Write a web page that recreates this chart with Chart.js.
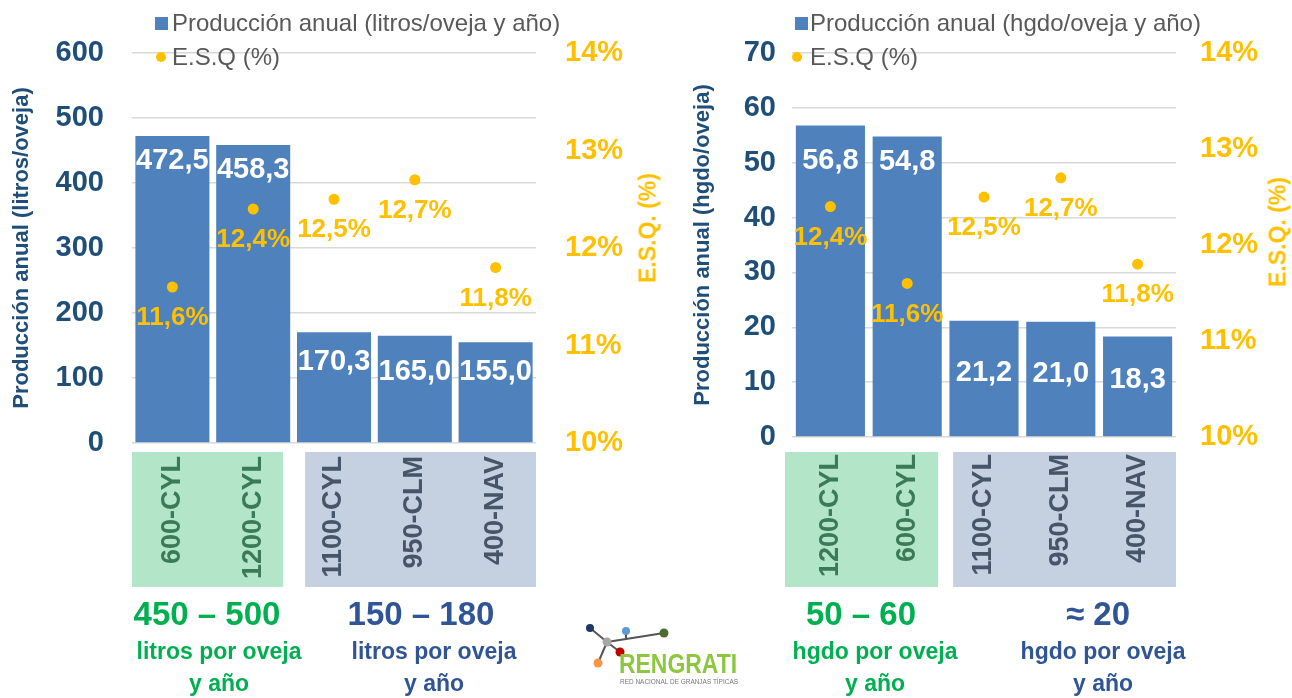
<!DOCTYPE html>
<html>
<head>
<meta charset="utf-8">
<script src="https://cdn.jsdelivr.net/npm/chart.js@4.4.0/dist/chart.umd.min.js"></script>
<style>
  body { margin: 0; width: 1292px; height: 698px; background: #fff; position: relative; overflow: hidden;
         font-family: 'Liberation Sans', Arial, sans-serif; }
  .wrap { position: absolute; top: 0; height: 600px; }
  .c { position: absolute; white-space: nowrap; transform: translate(-50%, -50%); font-weight: bold; }
  .leg { position: absolute; white-space: nowrap; font-size: 24px; color: #595959; line-height: 30px; height: 30px; }
  .sq { position: absolute; width: 13px; height: 13px; background: #4F81BD; }
  .dot { position: absolute; width: 10px; height: 10px; border-radius: 50%; background: #FFC000; }
  .rot { position: absolute; white-space: nowrap; font-weight: bold; font-size: 23px; color: #FFC000;
         transform: translate(-50%, -50%) rotate(-90deg); }
</style>
</head>
<body>
<div class="wrap" style="left:0;width:663px"><canvas id="chartLitros" width="663" height="600"></canvas></div>
<div class="wrap" style="left:663px;width:629px"><canvas id="chartHgdo" width="629" height="600"></canvas></div>

<!-- leyendas -->
<div class="sq" style="left:155px;top:17px"></div>
<div class="leg" style="left:172px;top:8px">Producción anual (litros/oveja y año)</div>
<div class="dot" style="left:156px;top:52px"></div>
<div class="leg" style="left:172px;top:42px">E.S.Q (%)</div>

<div class="sq" style="left:795px;top:17px"></div>
<div class="leg" style="left:810px;top:8px">Producción anual (hgdo/oveja y año)</div>
<div class="dot" style="left:792px;top:52px"></div>
<div class="leg" style="left:810px;top:42px">E.S.Q (%)</div>

<!-- titulos del eje derecho -->
<div class="rot" style="left:648px;top:228px">E.S.Q. (%)</div>
<div class="rot" style="left:1278px;top:232px">E.S.Q. (%)</div>

<!-- rangos abajo -->
<div class="c" style="left:207px;top:614px;font-size:33px;color:#00B050">450 – 500</div>
<div class="c" style="left:219px;top:651px;font-size:23px;color:#00B050">litros por oveja</div>
<div class="c" style="left:219px;top:683px;font-size:23px;color:#00B050">y año</div>
<div class="c" style="left:421px;top:614px;font-size:33px;color:#2F5597">150 – 180</div>
<div class="c" style="left:434px;top:651px;font-size:23px;color:#2F5597">litros por oveja</div>
<div class="c" style="left:434px;top:683px;font-size:23px;color:#2F5597">y año</div>

<div class="c" style="left:861px;top:614px;font-size:33px;color:#00B050">50 – 60</div>
<div class="c" style="left:875px;top:651px;font-size:23px;color:#00B050">hgdo por oveja</div>
<div class="c" style="left:875px;top:683px;font-size:23px;color:#00B050">y año</div>
<div class="c" style="left:1098px;top:614px;font-size:33px;color:#2F5597">≈ 20</div>
<div class="c" style="left:1103px;top:651px;font-size:23px;color:#2F5597">hgdo por oveja</div>
<div class="c" style="left:1103px;top:683px;font-size:23px;color:#2F5597">y año</div>

<!-- logo -->
<svg style="position:absolute;left:580px;top:618px" width="170" height="75" viewBox="580 618 170 75">
  <g stroke="#555" stroke-width="2">
    <line x1="590" y1="628" x2="607" y2="642"/>
    <line x1="607" y1="642" x2="664" y2="633"/>
    <line x1="626" y1="631" x2="626" y2="639"/>
    <line x1="607" y1="642" x2="620" y2="652"/>
    <line x1="607" y1="642" x2="598" y2="663"/>
  </g>
  <circle cx="590" cy="628" r="4" fill="#1F3864"/>
  <circle cx="607" cy="642" r="4.5" fill="#A6A6A6"/>
  <circle cx="626" cy="631" r="4" fill="#5B9BD5"/>
  <circle cx="664" cy="633" r="4.5" fill="#4E6B2F"/>
  <circle cx="620" cy="652" r="4.5" fill="#C00000"/>
  <circle cx="598" cy="663" r="4.5" fill="#F79646"/>
  <text x="619" y="673" font-family="'Liberation Sans Narrow', 'Liberation Sans', Arial" font-weight="bold" font-size="27" fill="#8DC63F" textLength="118" lengthAdjust="spacingAndGlyphs">RENGRATI</text>
  <text x="620" y="684" font-family="'Liberation Sans', Arial" font-size="7" fill="#777" textLength="118" lengthAdjust="spacingAndGlyphs">RED NACIONAL DE GRANJAS TÍPICAS</text>
</svg>

<script>
// datos: litros de leche por oveja
const catsLitros = ['600-CYL', '1200-CYL', '1100-CYL', '950-CLM', '400-NAV'];
const prodLitros = [472.5, 458.3, 170.3, 165.0, 155.0];
const esqLitros = [11.6, 12.4, 12.5, 12.7, 11.8];
const ejeLitros = [0, 600, 100];

// datos: hectogramos por oveja
const catsHgdo = ['1200-CYL', '600-CYL', '1100-CYL', '950-CLM', '400-NAV'];
const prodHgdo = [56.8, 54.8, 21.2, 21.0, 18.3];
const esqHgdo = [12.4, 11.6, 12.5, 12.7, 11.8];
const ejeHgdo = [0, 70, 10];

const ejePct = [10, 14, 1];

const azul = '#4F81BD';
const oro = '#FFC000';
const azulOsc = '#1F4E79';
const fuente = "'Liberation Sans', Arial, sans-serif";

Chart.defaults.font.family = fuente;

function coma(v, dec) {
  return v.toFixed(dec).replace('.', ',');
}

const extras = {
  id: 'extras',
  beforeDraw(chart, args, o) {
    const ctx = chart.ctx;
    const x = chart.scales.x;
    const half = (x.getPixelForValue(1) - x.getPixelForValue(0)) / 2;
    ctx.save();
    o.cajas.forEach(c => {
      const l = x.getPixelForValue(c.desde) - half + c.padL;
      const r = x.getPixelForValue(c.hasta) + half + c.padR;
      ctx.fillStyle = c.color;
      ctx.fillRect(l, o.cajaTop, r - l, o.cajaBottom - o.cajaTop);
    });
    ctx.restore();
  },
  afterDatasetsDraw(chart, args, o) {
    const ctx = chart.ctx;
    ctx.save();
    ctx.textAlign = 'center';
    ctx.textBaseline = 'middle';
    // etiquetas de barras
    ctx.font = 'bold 29px ' + fuente;
    ctx.fillStyle = '#fff';
    const barras = chart.getDatasetMeta(0).data;
    const vals = chart.data.datasets[0].data;
    barras.forEach((b, i) => ctx.fillText(coma(vals[i], 1), b.x, b.y + o.offBarra[i]));
    // etiquetas de puntos
    ctx.font = 'bold 26px ' + fuente;
    ctx.fillStyle = oro;
    const pts = chart.getDatasetMeta(1).data;
    const pv = chart.data.datasets[1].data;
    pts.forEach((p, i) => ctx.fillText(coma(pv[i], 1) + '%', p.x, p.y + o.offPunto));
    ctx.restore();
  }
};

function grafico(id, cats, prod, esq, eje, opt) {
  new Chart(document.getElementById(id), {
    type: 'bar',
    data: {
      labels: cats,
      datasets: [{
        type: 'bar',
        data: prod,
        yAxisID: 'y',
        backgroundColor: azul,
        barPercentage: opt.barPct,
        categoryPercentage: 1,
        order: 2
      }, {
        type: 'line',
        data: esq,
        yAxisID: 'y1',
        showLine: false,
        pointRadius: 5.5,
        pointBackgroundColor: oro,
        pointBorderWidth: 0,
        order: 1
      }]
    },
    options: {
      responsive: false,
      animation: false,
      layout: { padding: { top: 53, left: 0, right: 0, bottom: 0 } },
      plugins: {
        legend: { display: false },
        tooltip: { enabled: false },
        extras: opt.extras
      },
      scales: {
        x: {
          grid: { display: false },
          border: { display: false },
          ticks: {
            autoSkip: false,
            minRotation: 90,
            maxRotation: 90,
            padding: opt.xPad,
            font: { size: 27, weight: 'bold' },
            color: c => c.index < 2 ? '#3B7A57' : '#465568'
          },
          afterFit: s => { s.height = opt.xH; }
        },
        y: {
          position: 'left',
          min: eje[0], max: eje[1],
          ticks: { stepSize: eje[2], padding: opt.yPad, color: azulOsc, font: { size: 29, weight: 'bold' } },
          grid: { color: '#D9D9D9', lineWidth: 1.5, drawTicks: false },
          border: { display: false },
          title: {
            display: true, text: opt.titulo, color: azulOsc,
            font: { size: 22, weight: 'bold' }, padding: { top: opt.tPad, bottom: 0 }
          },
          afterFit: s => { s.width = opt.yW; }
        },
        y1: {
          position: 'right',
          min: ejePct[0], max: ejePct[1],
          ticks: { stepSize: ejePct[2], padding: opt.y1Pad, color: oro,
                   font: { size: 29, weight: 'bold' }, callback: v => v + '%' },
          grid: { display: false, drawTicks: false },
          border: { display: false },
          afterFit: s => { s.width = opt.y1W; }
        }
      }
    },
    plugins: [extras]
  });
}

grafico('chartLitros', catsLitros, prodLitros, esqLitros, ejeLitros, {
  barPct: 0.916, xPad: 5, xH: 157, yPad: 28, yW: 132, y1Pad: 29, y1W: 127,
  titulo: 'Producción anual (litros/oveja)', tPad: 9,
  extras: {
    offBarra: [25, 25, 30, 36, 30], offPunto: 31, cajaTop: 452, cajaBottom: 587,
    cajas: [
      { desde: 0, hasta: 1, padL: 0, padR: -10.5, color: '#B3E6C9' },
      { desde: 2, hasta: 4, padL: 11.5, padR: 0, color: '#C5D0E0' }
    ]
  }
});

grafico('chartHgdo', catsHgdo, prodHgdo, esqHgdo, ejeHgdo, {
  barPct: 0.9, xPad: 9, xH: 163, yPad: 16, yW: 129, y1Pad: 24, y1W: 116,
  titulo: 'Producción anual (hgdo/oveja)', tPad: 27,
  extras: {
    offBarra: [36, 26, 52, 52, 43], offPunto: 31, cajaTop: 452, cajaBottom: 587,
    cajas: [
      { desde: 0, hasta: 1, padL: -7, padR: -7.5, color: '#B3E6C9' },
      { desde: 2, hasta: 4, padL: 7.5, padR: 0, color: '#C5D0E0' }
    ]
  }
});
</script>
</body>
</html>
